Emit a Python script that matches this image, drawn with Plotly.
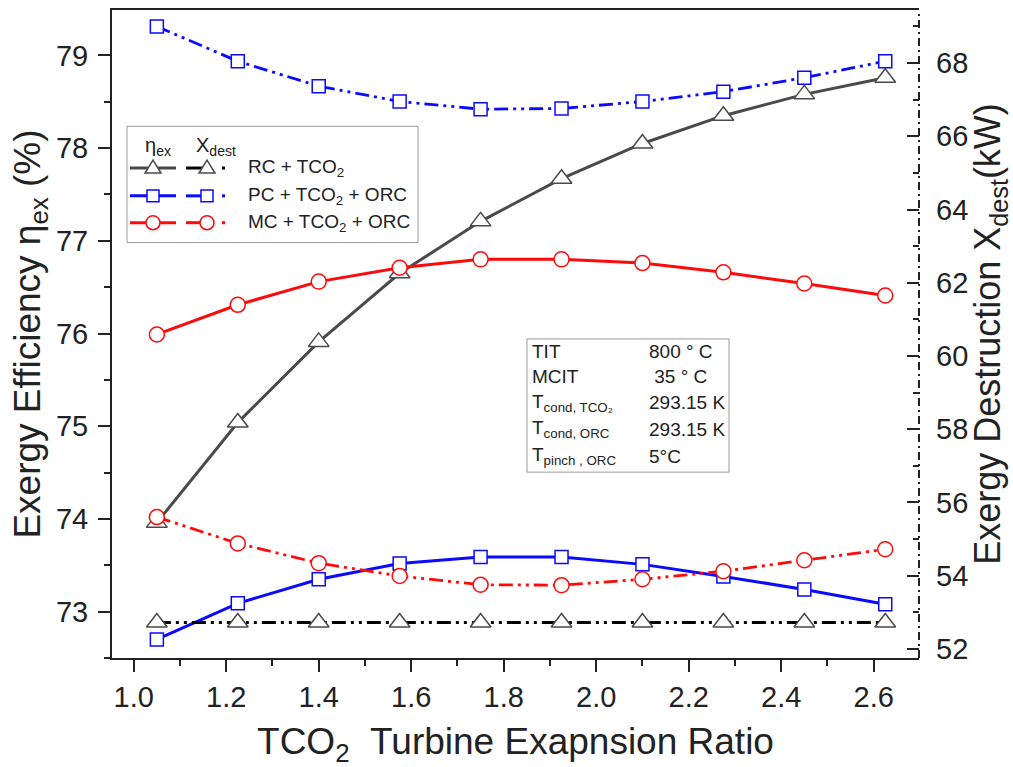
import plotly.graph_objects as go

# ---------------- data ----------------
ratio = [1.05, 1.225, 1.4, 1.575, 1.75, 1.925, 2.1, 2.275, 2.45, 2.625]

eta_rc = [73.96, 75.04, 75.91, 76.65, 77.21, 77.67, 78.05, 78.35, 78.58, 78.76]
eta_pc = [72.70, 73.09, 73.35, 73.52, 73.59, 73.59, 73.51, 73.38, 73.24, 73.08]
eta_mc = [75.99, 76.31, 76.56, 76.71, 76.80, 76.80, 76.76, 76.66, 76.54, 76.41]

xd_rc = [52.72, 52.72, 52.72, 52.72, 52.72, 52.72, 52.72, 52.72, 52.72, 52.72]
xd_pc = [69.0, 68.05, 67.37, 66.95, 66.74, 66.76, 66.95, 67.22, 67.60, 68.05]
xd_mc = [55.60, 54.88, 54.34, 53.99, 53.75, 53.74, 53.90, 54.12, 54.42, 54.72]

series_names = ["RC + TCO<sub>2</sub>", "PC + TCO<sub>2</sub> + ORC", "MC + TCO<sub>2</sub> + ORC"]

info_labels = ["TIT", "MCIT", "T<sub>cond, TCO\u2082</sub>", "T<sub>cond, ORC</sub>", "T<sub>pinch , ORC</sub>"]
info_values = ["800 ° C", " 35 ° C", "293.15 K", "293.15 K", "5°C"]

# ---------------- styling ----------------
FONT = "Liberation Sans, Arial, sans-serif"
GRAY = "#4a4a4a"
BLUE = "#0a0aff"
RED = "#ff0a0a"
DASHDOT = "14px,5px,3px,5px,3px,5px"

W, H = 1013, 767
L, R, T, B = 112, 94, 8, 107
PW, PH = W - L - R, H - T - B


def px(x):
    return (x - L) / PW


def py(y):
    return (H - B - y) / PH


fig = go.Figure()

styles = [
    (GRAY, "triangle-up", 18, eta_rc, xd_rc, "black"),
    (BLUE, "square", 13, eta_pc, xd_pc, BLUE),
    (RED, "circle", 15, eta_mc, xd_mc, RED),
]

for (col, sym, size, eta, xd, dcol), name in zip(styles, series_names):
    fig.add_trace(go.Scatter(
        x=ratio, y=eta, mode="lines+markers", name=name, showlegend=False,
        line=dict(color=col, width=3),
        marker=dict(symbol=sym, size=size, color="white", line=dict(color=col, width=1.5)),
    ))
    fig.add_trace(go.Scatter(
        x=ratio, y=xd, mode="lines+markers", name=name, showlegend=False, yaxis="y2",
        line=dict(color=dcol, width=2.8, dash=DASHDOT),
        marker=dict(symbol=sym, size=size, color="white", line=dict(color=col, width=1.5)),
    ))

axis_common = dict(
    showline=True, linecolor="#222222", linewidth=2, ticks="outside", ticklen=12,
    tickwidth=2, tickcolor="#222222", showgrid=False, zeroline=False,
    tickfont=dict(family=FONT, size=29, color="#222222"),
)

fig.update_layout(
    width=W, height=H, paper_bgcolor="white", plot_bgcolor="white",
    margin=dict(l=L, r=R, t=T, b=B),
    font=dict(family=FONT, color="#222222"),
    xaxis=dict(
        **axis_common, range=[0.953, 2.698], dtick=0.2, tick0=1.0, tickformat=".1f",
        mirror=True,
        minor=dict(dtick=0.1, ticklen=6, tickwidth=2, tickcolor="#222222", ticks="outside"),
        title=dict(text="TCO<sub>2</sub>\u00a0\u00a0Turbine Exapnsion Ratio",
                   font=dict(family=FONT, size=37), standoff=20),
    ),
    yaxis=dict(
        **axis_common, range=[72.5, 79.49], dtick=1, tick0=73, ticklabelstandoff=4,
        minor=dict(dtick=0.5, ticklen=6, tickwidth=2, tickcolor="#222222", ticks="outside"),
        title=dict(text="Exergy Efficiency η<sub>ex</sub> (%)",
                   font=dict(family=FONT, size=37), standoff=4),
    ),
    yaxis2=dict(
        overlaying="y", side="right", range=[51.75, 69.45], dtick=2, tick0=52,
        showline=False, ticks="inside", ticklen=12, tickwidth=2, tickcolor="#222222",
        showgrid=False, zeroline=False, ticklabelstandoff=16,
        tickfont=dict(family=FONT, size=29, color="#222222"),
        minor=dict(dtick=1, ticklen=6, tickwidth=2, tickcolor="#222222", ticks="inside"),
        title=dict(text="Exergy Destruction X<sub>dest</sub>(kW)",
                   font=dict(family=FONT, size=36), standoff=4),
    ),
)

shapes = []
annotations = []

# dashed right axis line
shapes.append(dict(type="line", xref="paper", yref="paper", x0=1, x1=1, y0=0, y1=1,
                   line=dict(color="#222222", width=2, dash="8px,4px,2px,4px")))


def text(x, y, s, size, anchor="left"):
    annotations.append(dict(xref="paper", yref="paper", x=px(x), y=py(y), text=s,
                            xanchor=anchor, yanchor="middle", showarrow=False,
                            font=dict(family=FONT, size=size, color="#222222")))


# ---------------- custom legend ----------------
shapes.append(dict(type="rect", xref="paper", yref="paper",
                   x0=px(127), x1=px(418), y0=py(242), y1=py(125),
                   line=dict(color="#9a9a9a", width=1), fillcolor="white", layer="above"))

text(158, 145, "η<sub>ex</sub>", 20, "center")
text(216, 145, "X<sub>dest</sub>", 20, "center")

row_y = [167, 195, 222]
leg_cols = [(GRAY, "black"), (BLUE, BLUE), (RED, RED)]
kinds = ["tri", "sq", "circ"]


def marker_shape(kind, cx, cy, col):
    if kind == "tri":
        path = "M {} {} L {} {} L {} {} Z".format(px(cx - 8), py(cy + 5), px(cx + 8), py(cy + 5), px(cx), py(cy - 8))
        return dict(type="path", xref="paper", yref="paper", path=path,
                    line=dict(color=col, width=1.5), fillcolor="white", layer="above")
    if kind == "sq":
        return dict(type="rect", xref="paper", yref="paper", x0=px(cx - 6), x1=px(cx + 6),
                    y0=py(cy + 6), y1=py(cy - 6), line=dict(color=col, width=1.5),
                    fillcolor="white", layer="above")
    return dict(type="circle", xref="paper", yref="paper", x0=px(cx - 7), x1=px(cx + 7),
                y0=py(cy + 7), y1=py(cy - 7), line=dict(color=col, width=1.5),
                fillcolor="white", layer="above")


for yy, (c1, c2), kind, name in zip(row_y, leg_cols, kinds, series_names):
    shapes.append(dict(type="line", xref="paper", yref="paper", x0=px(130), x1=px(176),
                       y0=py(yy), y1=py(yy), line=dict(color=c1, width=3), layer="above"))
    shapes.append(marker_shape(kind, 153, yy, c1))
    shapes.append(dict(type="line", xref="paper", yref="paper", x0=px(186), x1=px(204),
                       y0=py(yy), y1=py(yy), line=dict(color=c2, width=3), layer="above"))
    shapes.append(marker_shape(kind, 207, yy, c1))
    shapes.append(dict(type="line", xref="paper", yref="paper", x0=px(222), x1=px(225),
                       y0=py(yy), y1=py(yy), line=dict(color=c2, width=3), layer="above"))
    text(246, yy, name, 19)

# ---------------- info box ----------------
shapes.append(dict(type="rect", xref="paper", yref="paper",
                   x0=px(527), x1=px(729), y0=py(473), y1=py(339),
                   line=dict(color="#9a9a9a", width=1), fillcolor="white", layer="above"))
info_y = [352, 377, 403, 430, 457]
for yy, lab, val in zip(info_y, info_labels, info_values):
    text(530, yy, lab, 19)
    text(647, yy, val, 19)

fig.update_layout(shapes=shapes, annotations=annotations)

fig.write_html("out.html")
